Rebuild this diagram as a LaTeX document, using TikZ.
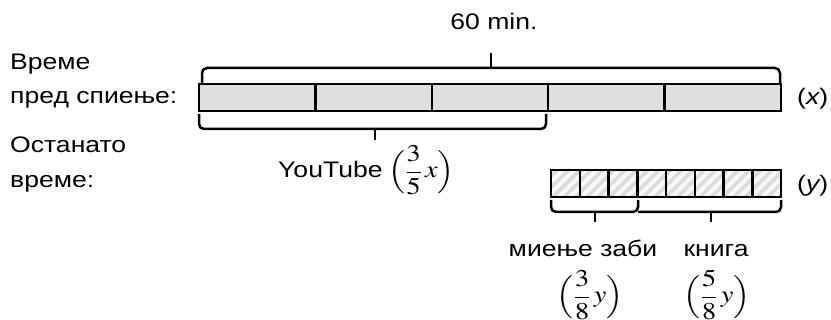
\documentclass[tikz,border=0pt]{standalone}
\usepackage{mathptmx}
\usepackage[no-math]{fontspec}
\setmainfont{Liberation Sans}
\usetikzlibrary{patterns.meta}
\newcommand\hstretch[1]{\scalebox{1.18}[1]{#1}}
\begin{document}
\begin{tikzpicture}[x=1pt,y=-1pt,
  lbl/.style={font=\fontsize{22.5}{26}\selectfont, inner sep=0pt, anchor=base west},
  mathlbl/.style={font=\fontsize{24}{26}\selectfont, inner sep=0pt, anchor=base west},
  barx/.style={draw, line width=2.5pt, fill=gray!25},
  bary/.style={draw, line width=2.5pt, preaction={fill=gray!6},
     pattern={Lines[angle=45,distance=8pt,line width=3.5pt]}, pattern color=gray!28},
  brace/.style={draw, line width=2.5pt, rounded corners=5pt},
  tick/.style={draw, line width=2.5pt}]
\useasboundingbox (0,0) rectangle (831,320);

% x bar
\foreach \i in {0,...,4}{
  \path[barx] ({199+116.4*\i},84) rectangle ({199+116.4*(\i+1)},111);
}
% y bar
\foreach \i in {0,...,7}{
  \path[bary] ({551+28.75*\i},170) rectangle ({551+28.75*(\i+1)},197);
}

% top brace
\path[brace] (202,84) -- (202,68) -- (780,68) -- (780,84);
\path[tick] (491,68) -- (491,53);
% bottom brace under x
\path[brace] (199,114) -- (199,129) -- (546,129) -- (546,114);
\path[tick] (375,129) -- (375,140);
% braces under y
\path[brace] (551,200) -- (551,212) -- (638,212) -- (638,200);
\path[brace] (638,212) -- (781,212) -- (781,200);
\path[tick] (595,212) -- (595,222);
\path[tick] (711,212) -- (711,222);

% texts
\node[lbl, anchor=base] (sixty) at (494,30) {\hstretch{60 min.}};
\node[lbl] (t1) at (10,70) {\hstretch{Време}};
\node[lbl] (t2) at (10,104) {\hstretch{пред спиење:}};
\node[lbl] (t3) at (10,153) {\hstretch{Останато}};
\node[lbl] (t4) at (10,188) {\hstretch{време:}};
\node[lbl] (xl) at (797,105) {\hstretch{({\itshape x})}};
\node[lbl] (yl) at (797,192) {\hstretch{({\itshape y})}};
\node[lbl] (yt) at (278,178) {\hstretch{YouTube}};
\node[mathlbl] (ytm) at (388,178) {\hstretch{$\Bigl({\displaystyle\frac{3}{5}}\,x\Bigr)$}};
\node[lbl, anchor=base] (mz) at (583,257) {\hstretch{миење заби}};
\node[lbl, anchor=base] (kn) at (716,257) {\hstretch{книга}};
\node[mathlbl, anchor=base] (mzm) at (590,303) {\hstretch{$\Bigl({\displaystyle\frac{3}{8}}\,y\Bigr)$}};
\node[mathlbl, anchor=base] (knm) at (717,303) {\hstretch{$\Bigl({\displaystyle\frac{5}{8}}\,y\Bigr)$}};
\end{tikzpicture}
\end{document}
